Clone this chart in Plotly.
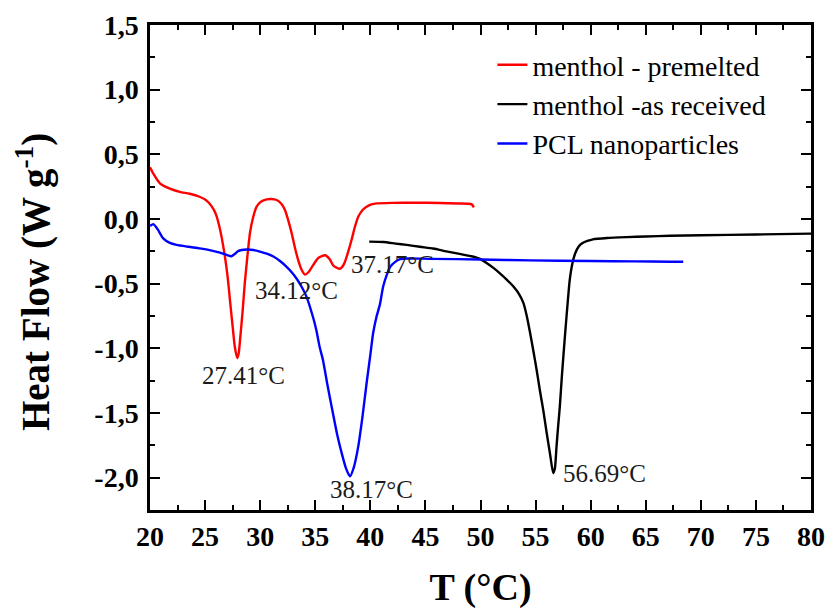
import plotly.graph_objects as go

# ---------------- data ----------------
t_red = [20, 20.3, 20.9, 21.8, 22.7, 23.6, 24.5, 25.0, 25.4, 25.8, 26.05, 26.3, 26.5, 26.8,
         27.05, 27.26, 27.5, 27.7, 27.92, 28.05, 28.2, 28.4, 28.6, 28.85, 29.07, 29.35, 29.68,
         30.1, 30.6, 31.0, 31.5, 31.9, 32.25, 32.55, 32.86, 33.15, 33.46, 33.75, 34.07, 34.4,
         34.82, 35.3, 35.9, 36.3, 36.6, 36.9, 37.18, 37.45, 37.7, 38.0, 38.3, 38.6, 38.9, 39.3,
         39.66, 40.1, 40.57, 42, 44, 46.3, 48, 48.9, 49.2, 49.4]
hf_red = [0.40, 0.35, 0.276, 0.235, 0.21, 0.195, 0.172, 0.15, 0.12, 0.07, 0.02, -0.06, -0.14,
          -0.29, -0.45, -0.63, -0.83, -0.99, -1.075, -1.04, -0.91, -0.72, -0.50, -0.28, -0.11,
          0.01, 0.095, 0.135, 0.152, 0.155, 0.147, 0.12, 0.07, -0.01, -0.11, -0.22, -0.32,
          -0.39, -0.43, -0.41, -0.355, -0.30, -0.28, -0.31, -0.355, -0.375, -0.385, -0.37,
          -0.33, -0.25, -0.16, -0.06, 0.018, 0.07, 0.095, 0.113, 0.121, 0.125, 0.126, 0.124,
          0.12, 0.118, 0.113, 0.09]

t_black = [39.9, 41.2, 42.3, 43.3, 44.5, 45.7, 46.9, 48.1, 49.3, 50.0, 50.55, 51.2, 51.76,
           52.4, 52.97, 53.5, 53.9, 54.2, 54.5, 54.8, 55.1, 55.4, 55.7, 56.0, 56.3, 56.6,
           56.75, 56.9, 57.05, 57.2, 57.4, 57.66, 57.9, 58.1, 58.35, 58.6, 58.9, 59.2, 59.7,
           60.2, 61.5, 63.25, 65, 67.2, 70, 75, 80]
hf_black = [-0.175, -0.178, -0.19, -0.20, -0.215, -0.228, -0.25, -0.27, -0.29, -0.31, -0.34,
            -0.38, -0.42, -0.47, -0.52, -0.58, -0.65, -0.75, -0.88, -1.02, -1.17, -1.33,
            -1.48, -1.65, -1.81, -1.965, -1.93, -1.76, -1.6, -1.45, -1.2, -0.91, -0.66, -0.47,
            -0.34, -0.265, -0.215, -0.19, -0.17, -0.157, -0.147, -0.14, -0.135, -0.13,
            -0.126, -0.12, -0.113]

t_blue = [20, 20.3, 20.7, 21.2, 21.8, 22.4, 23.5, 24.5, 25.5, 26.35, 27.0, 27.4, 27.7, 28.0,
          28.77, 29.4, 29.98, 30.6, 31.2, 31.8, 32.4, 32.9, 33.3, 33.8, 34.2, 34.8, 35.1,
          35.4, 35.7, 36.1, 36.6, 37.0, 37.4, 37.8, 38.15, 38.5, 38.9, 39.3, 39.66, 40.0,
          40.26, 40.55, 40.87, 41.17, 41.5, 41.8, 42.2, 42.7, 43.5, 45.4, 50, 54.5, 60, 64,
          67.2, 68.4]
hf_blue = [-0.054, -0.04, -0.08, -0.15, -0.185, -0.2, -0.215, -0.227, -0.242, -0.26, -0.28,
           -0.288, -0.27, -0.248, -0.236, -0.24, -0.252, -0.268, -0.29, -0.325, -0.37,
           -0.415, -0.46, -0.53, -0.60, -0.76, -0.86, -0.99, -1.09, -1.28, -1.50, -1.67,
           -1.81, -1.93, -1.99, -1.92, -1.76, -1.52, -1.27, -1.05, -0.88, -0.76, -0.66,
           -0.52, -0.43, -0.37, -0.335, -0.31, -0.305, -0.308, -0.313, -0.32, -0.325,
           -0.328, -0.33, -0.33]

series_names = ["menthol - premelted", "menthol -as received", "PCL nanoparticles"]

peak_labels = ["27.41°C", "34.12°C", "37.17°C", "38.17°C", "56.69°C"]
peak_label_x = [28.53, 33.34, 42.05, 40.15, 61.29]
peak_label_y = [-1.213, -0.556, -0.348, -2.094, -1.97]

x_tickvals = [20, 25, 30, 35, 40, 45, 50, 55, 60, 65, 70, 75, 80]
y_tickvals = [-2.0, -1.5, -1.0, -0.5, 0.0, 0.5, 1.0, 1.5]
y_ticktext = ["-2,0", "-1,5", "-1,0", "-0,5", "0,0", "0,5", "1,0", "1,5"]

x_title = "<b>T (°C)</b>"
y_title = "<b>Heat Flow (W g<sup>-1</sup>)</b>"

# ---------------- figure ----------------
FONT = "Liberation Serif, Times New Roman, serif"
fig = go.Figure()
for t, hf, name, col in [(t_red, hf_red, series_names[0], "#ff0000"),
                         (t_black, hf_black, series_names[1], "#000000"),
                         (t_blue, hf_blue, series_names[2], "#0000ff")]:
    fig.add_trace(go.Scatter(x=t, y=hf, name=name, mode="lines",
                             line=dict(color=col, width=2.4, shape="spline", smoothing=0.6)))

for txt, ax, ay in zip(peak_labels, peak_label_x, peak_label_y):
    fig.add_annotation(x=ax, y=ay, xref="x", yref="y", text=txt, showarrow=False,
                       font=dict(family=FONT, size=25, color="#1a1a1a"),
                       xanchor="center", yanchor="middle")

# y-axis title (as rotated annotation so it can sit slightly below centre, like the original)
fig.add_annotation(x=-0.177, y=0.47, xref="paper", yref="paper", text=y_title,
                   showarrow=False, textangle=-90, xanchor="center", yanchor="middle",
                   font=dict(family=FONT, size=39, color="black"))

axis_common = dict(showline=True, linecolor="black", linewidth=2.5, mirror="ticks",
                   ticks="inside", ticklen=10, tickwidth=2, tickcolor="black",
                   showgrid=False, zeroline=False, automargin=False,
                   tickfont=dict(family=FONT, size=28, color="black", weight="bold"))

fig.update_xaxes(range=[20, 80], tickvals=x_tickvals,
                 minor=dict(ticks="inside", ticklen=5, tickwidth=2, dtick=2.5, tick0=20,
                            tickcolor="black"),
                 title=dict(text=x_title, font=dict(family=FONT, size=38, color="black"),
                            standoff=32),
                 ticklabelstandoff=0,
                 **axis_common)
fig.update_yaxes(range=[-2.25, 1.5], tickvals=y_tickvals, ticktext=y_ticktext,
                 minor=dict(ticks="inside", ticklen=5, tickwidth=2, dtick=0.25, tick0=0,
                            tickcolor="black"),
                 ticklabelstandoff=3,
                 **axis_common)

fig.update_layout(
    width=828, height=609,
    margin=dict(l=150, r=17, t=25, b=99, autoexpand=False),
    paper_bgcolor="white", plot_bgcolor="white",
    showlegend=True,
    legend=dict(x=0.518, y=0.969, xanchor="left", yanchor="top",
                bgcolor="rgba(0,0,0,0)", borderwidth=0,
                font=dict(family=FONT, size=28, color="black"),
                tracegroupgap=0, itemwidth=30),
)

fig.write_html("out.html", config={"displayModeBar": False},
               post_script="document.body.style.margin='0';")
